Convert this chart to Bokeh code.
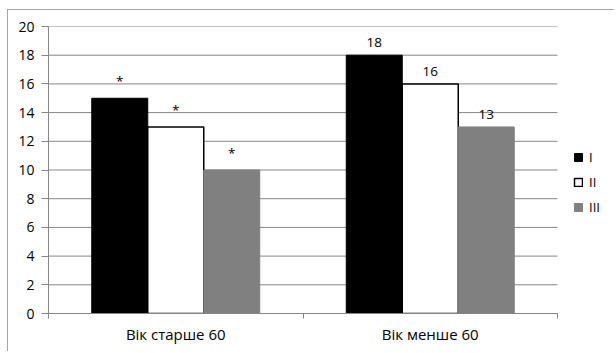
from bokeh.plotting import figure
from bokeh.models import ColumnDataSource, Range1d, FixedTicker, Legend, LegendItem
from bokeh.core.properties import value
from bokeh.transform import dodge
from bokeh.embed import file_html
from bokeh.resources import INLINE

categories = ["Вік старше 60", "Вік менше 60"]
series_names = ["I", "II", "III"]
values_I = [15, 18]
values_II = [13, 16]
values_III = [10, 13]
labels_I = ["*", "18"]
labels_II = ["*", "16"]
labels_III = ["*", "13"]
y_ticks = [0, 2, 4, 6, 8, 10, 12, 14, 16, 18, 20]

FONT = "Open Sans"
GRID = "#868686"

n = len(categories)
xs = [i + 0.5 for i in range(n)]
src = ColumnDataSource(dict(x=xs, I=values_I, II=values_II, III=values_III,
                            lI=labels_I, lII=labels_II, lIII=labels_III))
grid_src = ColumnDataSource(dict(y=y_ticks[1:], x0=[0] * (len(y_ticks) - 1), x1=[n] * (len(y_ticks) - 1)))

# frame spans 48..610 px; the category area covers 48..557 px
x_end = n * (610 - 48) / (557 - 48)

p = figure(width=607, height=342, x_range=Range1d(0, x_end), y_range=Range1d(0, 20),
           output_backend="svg", toolbar_location=None,
           min_border_left=40, min_border_right=5, min_border_top=16, min_border_bottom=39)
p.styles = {"margin-left": "7px", "margin-top": "9px",
            "border-left": "1px solid #a6a6a6", "border-top": "1px solid #a6a6a6"}
p.outline_line_color = None
p.background_fill_color = "white"
p.border_fill_color = "white"
p.xgrid.grid_line_color = None
p.ygrid.grid_line_color = None

p.segment(x0="x0", x1="x1", y0="y", y1="y", source=grid_src, line_color=GRID, line_width=1)

bw = 0.22
r1 = p.vbar(x=dodge("x", -bw, range=p.x_range), top="I", width=bw, source=src,
            fill_color="black", line_color="black", line_width=1)
r2 = p.vbar(x=dodge("x", 0, range=p.x_range), top="II", width=bw, source=src,
            fill_color="white", line_color="black", line_width=1.5)
r3 = p.vbar(x=dodge("x", bw, range=p.x_range), top="III", width=bw, source=src,
            fill_color="#808080", line_color="#808080", line_width=1)

for off, top, lab in [(-bw, "I", "lI"), (0, "II", "lII"), (bw, "III", "lIII")]:
    p.text(x=dodge("x", off, range=p.x_range), y=top, text=lab, source=src,
           text_align="center", text_baseline="bottom", y_offset=-8,
           text_font=value(FONT), text_font_size="13.5px", text_color="black")

p.yaxis.ticker = FixedTicker(ticks=y_ticks)
p.yaxis.minor_tick_line_color = None
p.yaxis.axis_line_color = GRID
p.yaxis.major_tick_line_color = GRID
p.yaxis.major_tick_out = 7
p.yaxis.major_tick_in = 0
p.yaxis.major_label_standoff = 7
p.yaxis.major_label_text_font = FONT
p.yaxis.major_label_text_font_size = "14px"
p.yaxis.major_label_text_color = "black"

p.xaxis.bounds = (0, n)
p.xaxis.ticker = FixedTicker(ticks=xs, minor_ticks=[float(i) for i in range(n + 1)])
p.xaxis.major_label_overrides = {x: c for x, c in zip(xs, categories)}
p.xaxis.major_tick_line_color = None
p.xaxis.minor_tick_line_color = GRID
p.xaxis.minor_tick_out = 5
p.xaxis.minor_tick_in = 0
p.xaxis.axis_line_color = GRID
p.xaxis.major_label_standoff = 4
p.xaxis.major_label_text_font = FONT
p.xaxis.major_label_text_font_size = "15px"
p.xaxis.major_label_text_color = "black"

legend = Legend(items=[LegendItem(label=s, renderers=[r]) for s, r in zip(series_names, [r1, r2, r3])],
                location=(525, 96), orientation="vertical",
                glyph_width=10, glyph_height=10, label_height=20, spacing=5, label_standoff=6,
                padding=0, margin=0, border_line_color=None, background_fill_alpha=0,
                label_text_font=FONT, label_text_font_size="13px", label_text_color="black")
p.add_layout(legend, "center")

open("out.html", "w").write(file_html(p, INLINE))
